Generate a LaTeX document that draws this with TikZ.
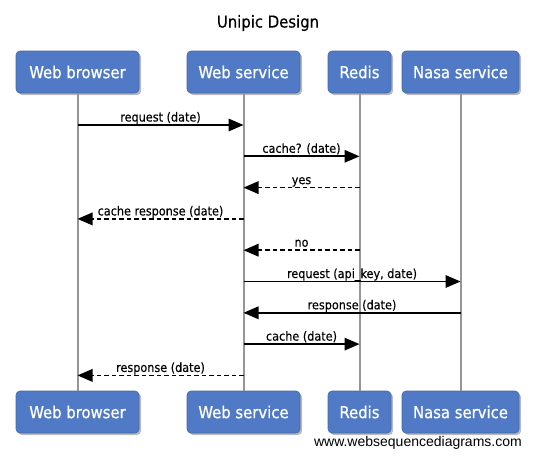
\documentclass[tikz,border=0pt]{standalone}
\usepackage{fontspec}
\setmainfont{DejaVu Sans Condensed}
\newfontfamily\actorfont[FakeBold=0.8]{DejaVu Sans Condensed}
\newfontfamily\lblfont[FakeBold=0.3]{DejaVu Sans Condensed}
\newfontfamily\wsdfont{Liberation Sans}
\usetikzlibrary{arrows.meta,shadows}
\definecolor{actorblue}{RGB}{80,122,198}
\definecolor{lifegray}{RGB}{150,150,150}
\tikzset{
  actor/.style={rectangle,rounded corners=4pt,fill=actorblue,draw=actorblue!85!black,
    line width=0.6pt,text=white,font=\actorfont\fontsize{16.5}{19}\selectfont,
    minimum height=42pt,inner sep=0pt,
    drop shadow={shadow xshift=2pt,shadow yshift=-2pt,opacity=0.45,fill=black!60}},
  lifeline/.style={draw=lifegray,line width=2pt},
  msg/.style={line width=1.7pt,-{Triangle[length=15pt,width=12.5pt]}},
  reply/.style={msg,dash pattern=on 4.5pt off 3pt},
  lbl/.style={font=\lblfont\fontsize{12.5}{14}\selectfont,anchor=base,inner sep=0pt,yshift=3.5pt}
}
\begin{document}
\begin{tikzpicture}[x=1pt,y=-1pt]
  \useasboundingbox (0,0) rectangle (533,456);
  \node[font=\lblfont\fontsize{16.5}{19}\selectfont] (title) at (268,23) {Unipic Design};

  \node[actor,minimum width=123pt] (wbT) at (77.5,72) {Web browser};
  \node[actor,minimum width=113pt] (wsT) at (243.5,72) {Web service};
  \node[actor,minimum width=63pt] (rdT) at (359.5,72) {Redis};
  \node[actor,minimum width=117pt] (nsT) at (460.5,72) {Nasa service};

  \node[actor,minimum width=123pt] (wbB) at (77.5,412) {Web browser};
  \node[actor,minimum width=113pt] (wsB) at (243.5,412) {Web service};
  \node[actor,minimum width=63pt] (rdB) at (359.5,412) {Redis};
  \node[actor,minimum width=117pt] (nsB) at (460.5,412) {Nasa service};

  \draw[lifeline] (wbT) -- (wbB);
  \draw[lifeline] (wsT) -- (wsB);
  \draw[lifeline] (rdT) -- (rdB);
  \draw[lifeline] (nsT) -- (nsB);

  % message rows
  \coordinate (r1) at (0,125);
  \coordinate (r2) at (0,156.3);
  \coordinate (r3) at (0,187.6);
  \coordinate (r4) at (0,218.9);
  \coordinate (r5) at (0,250.2);
  \coordinate (r6) at (0,281.5);
  \coordinate (r7) at (0,312.8);
  \coordinate (r8) at (0,344.1);
  \coordinate (r9) at (0,375.4);

  \draw[msg] (wbT |- r1) -- (wsT |- r1) node[lbl,midway] {request (date)};
  \draw[msg] (wsT |- r2) -- (rdT |- r2) node[lbl,midway] {cache? (date)};
  \draw[reply] (rdT |- r3) -- (wsT |- r3) node[lbl,midway] {yes};
  \draw[reply] (wsT |- r4) -- (wbT |- r4) node[lbl,midway] {cache response (date)};
  \draw[reply] (rdT |- r5) -- (wsT |- r5) node[lbl,midway] {no};
  \draw[msg] (wsT |- r6) -- (nsT |- r6) node[lbl,midway] {request (api\_key, date)};
  \draw[msg] (nsT |- r7) -- (wsT |- r7) node[lbl,midway] {response (date)};
  \draw[msg] (wsT |- r8) -- (rdT |- r8) node[lbl,midway] {cache (date)};
  \draw[reply] (wsT |- r9) -- (wbT |- r9) node[lbl,midway] {response (date)};

  \node[anchor=base east,inner sep=0pt,font=\wsdfont\fontsize{14}{16}\selectfont] (wsd) at (522,446) {www.websequencediagrams.com};
\end{tikzpicture}
\end{document}
